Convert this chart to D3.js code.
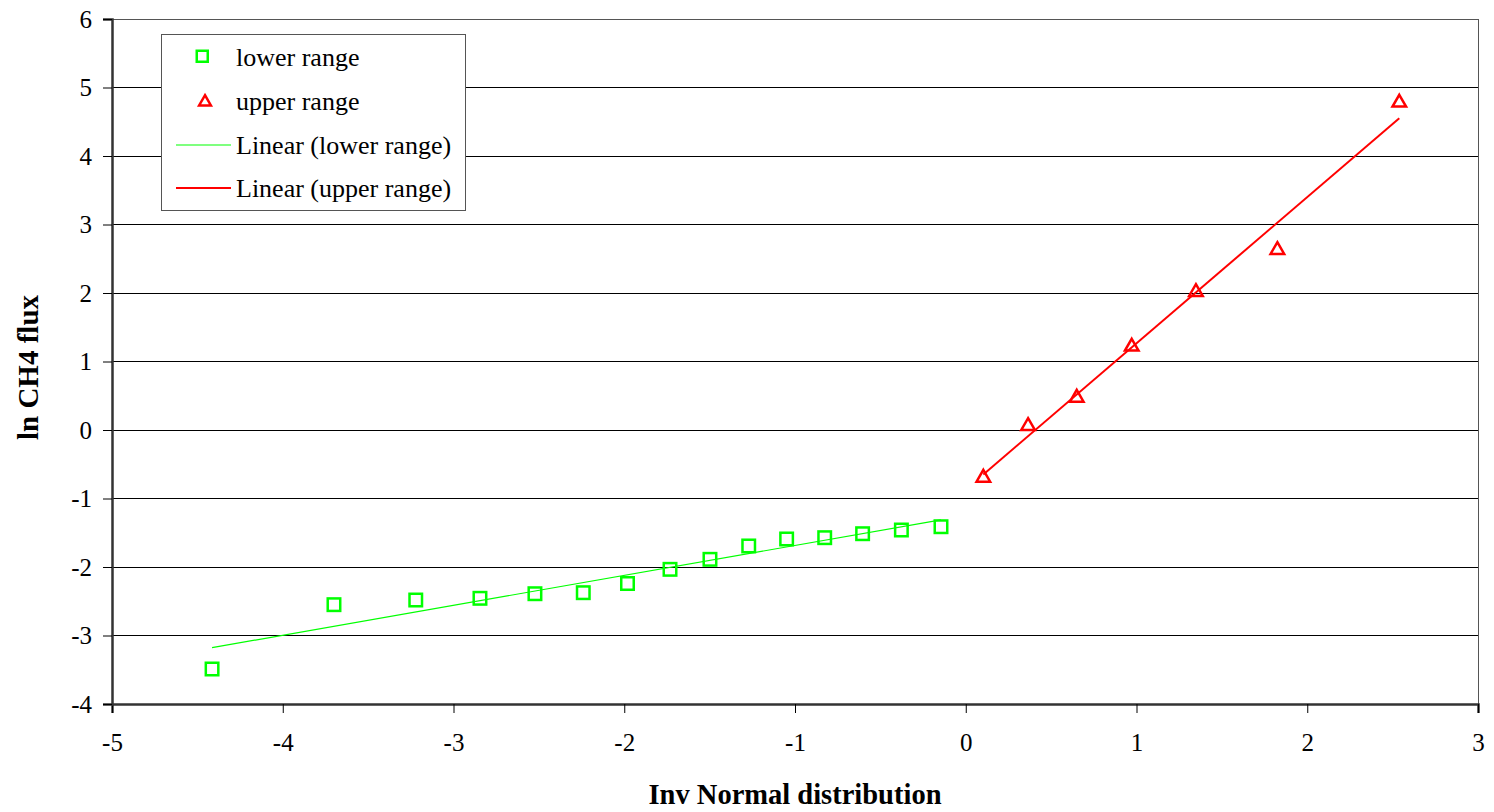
<!DOCTYPE html>
<html>
<head>
<meta charset="utf-8">
<script src="https://cdn.jsdelivr.net/npm/d3@7"></script>
<style>
  html, body { margin: 0; padding: 0; background: #fff; }
  svg { display: block; font-family: "Liberation Serif", "Times New Roman", serif; }
</style>
</head>
<body>
<svg id="chart" width="1494" height="812"></svg>
<script>
// Normal-score plot of ln CH4 flux, split into two ranges
const lowerX = [-4.414, -3.700, -3.221, -2.845, -2.523, -2.240, -1.981, -1.732, -1.498, -1.271, -1.049, -0.826, -0.604, -0.377, -0.145];
const lowerY = [-3.489, -2.550, -2.482, -2.457, -2.390, -2.375, -2.241, -2.034, -1.888, -1.693, -1.591, -1.572, -1.514, -1.460, -1.412];
const upperX = [0.103, 0.365, 0.650, 0.972, 1.348, 1.825, 2.539];
const upperY = [-0.682, 0.073, 0.486, 1.231, 2.029, 2.642, 4.793];
const xTicks = [-5, -4, -3, -2, -1, 0, 1, 2, 3];
const yTicks = [-4, -3, -2, -1, 0, 1, 2, 3, 4, 5, 6];
const legendLabels = ["lower range", "upper range", "Linear (lower range)", "Linear (upper range)"];

const GREEN = "#00ff00", RED = "#ff0000";

const svg = d3.select("#chart");
const margin = { left: 112, right: 16, top: 19, bottom: 108 };
const W = 1494, H = 812;
const x = d3.scaleLinear().domain([-5, 3]).range([margin.left, W - margin.right]);
const y = d3.scaleLinear().domain([-4, 6]).range([H - margin.bottom, margin.top]);

// least-squares fit across the points of one series
function fit(xs, ys) {
  const n = xs.length;
  const mx = d3.mean(xs), my = d3.mean(ys);
  let sxy = 0, sxx = 0;
  for (let i = 0; i < n; i++) { sxy += (xs[i] - mx) * (ys[i] - my); sxx += (xs[i] - mx) ** 2; }
  const b = sxy / sxx, a = my - b * mx;
  const x0 = d3.min(xs), x1 = d3.max(xs);
  return [[x0, a + b * x0], [x1, a + b * x1]];
}

// gridlines
svg.append("g").selectAll("line").data(yTicks.filter(t => t !== -4 && t !== 6)).join("line")
  .attr("x1", x(-5)).attr("x2", x(3))
  .attr("y1", d => y(d)).attr("y2", d => y(d))
  .attr("stroke", "#000").attr("stroke-width", 1).attr("shape-rendering", "crispEdges");

// plot frame
svg.append("rect")
  .attr("x", x(-5)).attr("y", y(6))
  .attr("width", x(3) - x(-5)).attr("height", y(-4) - y(6))
  .attr("fill", "none").attr("stroke", "#555").attr("stroke-width", 1).attr("shape-rendering", "crispEdges");

// axes (plain hyphen for negatives)
const fmt = d => String(d);
const xAxis = d3.axisBottom(x).tickValues(xTicks).tickSize(9).tickPadding(14).tickFormat(fmt);
const yAxis = d3.axisLeft(y).tickValues(yTicks).tickSize(9).tickPadding(11).tickFormat(fmt);

const gx = svg.append("g").attr("transform", `translate(0,${y(-4)})`).call(xAxis);
const gy = svg.append("g").attr("transform", `translate(${x(-5)},0)`).call(yAxis);
[gx, gy].forEach(g => {
  g.select(".domain").attr("stroke", "#333").attr("stroke-width", 2.5);
  g.selectAll(".tick line").attr("stroke", "#000").attr("stroke-width", 1);
  g.selectAll(".tick text").attr("font-family", "Liberation Serif, serif").attr("font-size", 25).attr("fill", "#000");
});
gx.selectAll(".tick text").attr("dy", "0.95em");

// axis titles
svg.append("text")
  .attr("x", (x(-5) + x(3)) / 2).attr("y", 804)
  .attr("text-anchor", "middle").attr("font-size", 28.5).attr("font-weight", "bold")
  .text("Inv Normal distribution");
svg.append("text")
  .attr("transform", `translate(38,${(y(-4) + y(6)) / 2 + 6}) rotate(-90)`)
  .attr("text-anchor", "middle").attr("font-size", 29).attr("font-weight", "bold")
  .text("ln CH4 flux");

// trend lines
const line = d3.line().x(d => x(d[0])).y(d => y(d[1]));
svg.append("path").attr("d", line(fit(lowerX, lowerY)))
  .attr("stroke", GREEN).attr("stroke-width", 1.2).attr("fill", "none");
svg.append("path").attr("d", line(fit(upperX, upperY)))
  .attr("stroke", RED).attr("stroke-width", 2).attr("fill", "none");

// markers
const sq = 12.5, tri = d3.symbol().type(d3.symbolTriangle).size(80);
svg.append("g").selectAll("rect").data(d3.zip(lowerX, lowerY)).join("rect")
  .attr("x", d => x(d[0]) - sq / 2).attr("y", d => y(d[1]) - sq / 2)
  .attr("width", sq).attr("height", sq)
  .attr("fill", "none").attr("stroke", GREEN).attr("stroke-width", 2.5);
svg.append("g").selectAll("path").data(d3.zip(upperX, upperY)).join("path")
  .attr("d", tri)
  .attr("transform", d => `translate(${x(d[0])},${y(d[1]) + 1})`)
  .attr("fill", "none").attr("stroke", RED).attr("stroke-width", 2.5);

// legend
const lg = svg.append("g").attr("transform", "translate(161,34)");
lg.append("rect").attr("width", 304).attr("height", 176)
  .attr("fill", "#fff").attr("stroke", "#555").attr("stroke-width", 1).attr("shape-rendering", "crispEdges");
const rowY = [23, 67, 111, 154];
lg.append("rect").attr("x", 41 - sq / 2 + 1).attr("y", rowY[0] - sq / 2)
  .attr("width", sq - 1.5).attr("height", sq - 1.5)
  .attr("fill", "none").attr("stroke", GREEN).attr("stroke-width", 2.5);
lg.append("path").attr("d", d3.symbol().type(d3.symbolTriangle).size(60)).attr("transform", `translate(44,${rowY[1] + 1})`)
  .attr("fill", "none").attr("stroke", RED).attr("stroke-width", 2.5);
lg.append("line").attr("x1", 15).attr("x2", 70).attr("y1", rowY[2]).attr("y2", rowY[2])
  .attr("stroke", GREEN).attr("stroke-width", 1.2);
lg.append("line").attr("x1", 15).attr("x2", 70).attr("y1", rowY[3]).attr("y2", rowY[3])
  .attr("stroke", RED).attr("stroke-width", 2);
lg.selectAll("text.lab").data(legendLabels).join("text")
  .attr("class", "lab")
  .attr("x", 75)
  .attr("y", (d, i) => rowY[i]).attr("dy", "0.35em")
  .attr("font-size", 26).attr("fill", "#000")
  .text(d => d);
</script>
</body>
</html>
